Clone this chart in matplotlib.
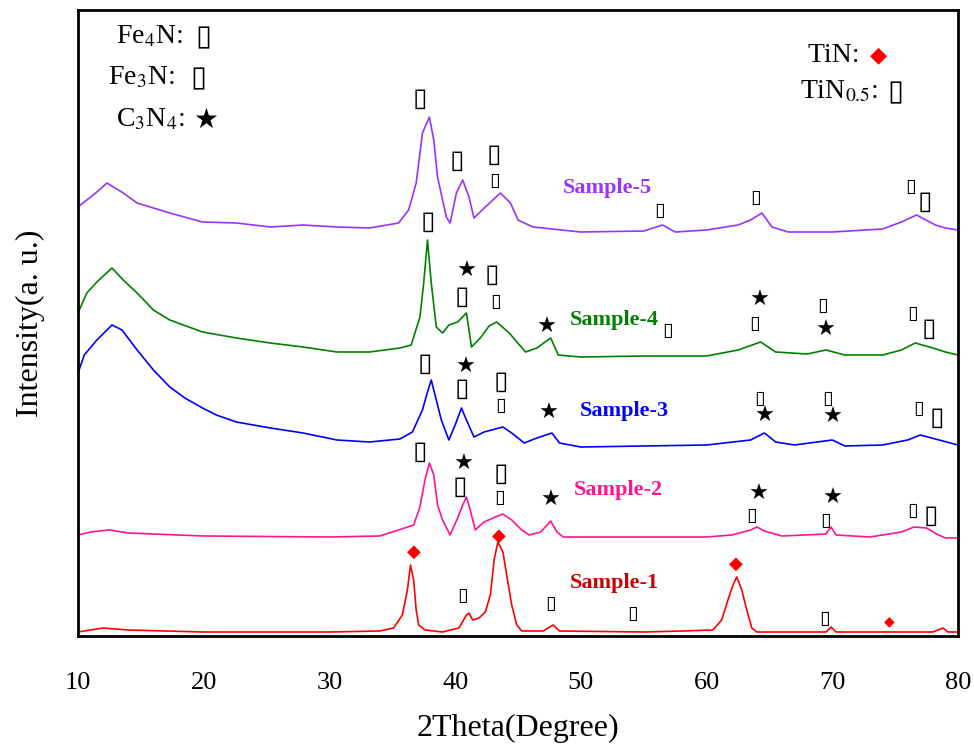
import matplotlib
matplotlib.use("Agg")
import matplotlib.pyplot as plt

plt.rcParams['font.family'] = ['Liberation Serif', 'DejaVu Sans']
plt.rcParams['mathtext.fontset'] = 'stix'

# XRD patterns: 2theta (deg) and stacked intensity (a.u.)
s1_x = [10, 12, 14, 20, 30, 34, 35.1, 35.8, 36.2, 36.45, 36.7, 36.9, 37.1, 37.6, 39, 40.3, 40.9, 41.1, 41.4, 41.9,
        42.4, 42.8, 43.1, 43.4, 43.8, 44.1, 44.5, 44.9, 45.3, 47.0, 47.8, 48.3, 55, 58, 60.5, 61.2, 61.7, 62.1,
        62.4, 62.8, 63.2, 63.6, 64, 69.5, 69.9, 70.3, 78, 78.8, 79.2, 80]
s1_y = [4, 8, 6, 4, 4, 5, 8, 21, 46, 71, 56, 26, 11, 6, 4, 8, 21, 23, 16, 18,
        24, 41, 76, 94, 84, 61, 31, 11, 5, 5, 11, 5, 4, 5, 6, 16, 36, 51,
        59, 46, 26, 8, 4, 4, 9, 4, 4, 8, 4, 4]

s2_x = [10, 11, 12.5, 14, 20, 30, 34, 35.5, 36.7, 37.2, 37.6, 37.95, 38.3, 38.6, 39.0, 39.6, 40.2, 40.6, 40.9,
        41.2, 41.6, 42.3, 43.2, 43.8, 44.5, 45.3, 45.9, 46.8, 47.6, 48.1, 48.6, 55, 60, 62, 63.5, 64.0, 64.6,
        66, 69.5, 69.9, 70.3, 73, 75.5, 76.5, 77.5, 78.3, 79, 80]
s2_y = [101, 104, 106, 103, 100, 99, 100, 106, 111, 129, 156, 173, 161, 131, 116, 101, 118, 131, 139,
        126, 106, 114, 119, 122, 116, 106, 101, 104, 115, 104, 99, 99, 99, 101, 106, 109, 105,
        100, 102, 109, 101, 99, 104, 109, 108, 102, 98, 98]

s3_x = [10, 10.5, 11.5, 12.7, 13.5, 14.7, 16, 17.3, 18.5, 19.9, 21, 22.6, 25.3, 27.9, 30.6, 33.2, 35.6, 36.6,
        37.4, 37.8, 38.1, 38.5, 38.9, 39.5, 40.0, 40.5, 40.9, 41.5, 42.3, 43.8, 44.5, 45.5, 46.5, 47.7, 48.3,
        50, 55, 60, 63.5, 64.6, 65.5, 67, 70, 71, 74, 76, 77, 78.5, 80]
s3_y = [263, 281, 296, 311, 306, 286, 266, 249, 238, 228, 221, 214, 208, 203, 196, 194, 197, 204,
        226, 244, 256, 236, 216, 196, 211, 228, 216, 199, 204, 209, 203, 193, 198, 203, 193,
        189, 190, 191, 196, 203, 194, 191, 196, 190, 191, 196, 201, 196, 191]

s4_x = [10, 10.7, 11.5, 12.7, 13.6, 14.7, 16, 17.3, 19.9, 22.6, 25.3, 27.9, 30.6, 33.2, 35.6, 36.5, 37.2,
        37.5, 37.8, 38.1, 38.5, 39.0, 39.5, 40.2, 40.9, 41.3, 42.0, 42.7, 43.3, 44.3, 45.6, 46.5, 47.6, 48.2,
        50, 55, 60, 62.5, 64.3, 65.5, 68, 69.5, 71, 74, 75.5, 76.6, 78, 79, 80]
s4_y = [323, 343, 354, 368, 356, 343, 326, 316, 304, 298, 293, 289, 284, 284, 288, 291, 319,
        353, 396, 353, 309, 303, 311, 314, 323, 289, 298, 310, 314, 303, 284, 288, 298, 281,
        279, 280, 280, 286, 294, 284, 282, 286, 281, 281, 286, 293, 288, 284, 281]

s5_x = [10, 10.7, 11.5, 12.3, 13.6, 14.7, 16, 17.3, 19.9, 22.6, 25.3, 27.9, 30.6, 33.2, 35.5, 36.3, 36.9,
        37.4, 37.95, 38.3, 38.6, 39.3, 39.6, 40.1, 40.6, 41.1, 41.5, 42.4, 43.6, 44.4, 45.0, 46.2, 50, 55,
        56.5, 57.5, 60, 62.5, 63.5, 64.4, 65.2, 66.5, 70, 74, 75.5, 76.7, 78.2, 79, 80]
s5_y = [429, 436, 444, 453, 443, 433, 428, 423, 414, 413, 409, 411, 409, 408, 413, 426, 453,
        503, 519, 496, 459, 419, 413, 443, 456, 439, 418, 429, 443, 433, 416, 409, 404, 405,
        411, 404, 406, 411, 416, 423, 409, 404, 404, 407, 414, 421, 411, 408, 406]

samples = ['Sample-1', 'Sample-2', 'Sample-3', 'Sample-4', 'Sample-5']
line_colors = ['#ff0000', '#ff1493', '#0000ff', '#008000', '#9933ff']
label_colors = ['#cc0000', '#ff1493', '#0000ff', '#008000', '#9933ff']
label_pos = [(52.7, 53), (53.0, 146), (53.5, 225), (52.7, 316), (52.1, 448)]

# phase markers: (symbol kind, 2theta, height)
# L = large box, S = small box, * = star, D = diamond, d = small diamond
markers = [
    ('L', 37.2, 537), ('L', 40.15, 475), ('L', 43.1, 481), ('S', 43.1, 456), ('S', 56.3, 426),
    ('S', 63.9, 439), ('S', 76.2, 450), ('L', 77.4, 434),
    ('L', 37.8, 414), ('*', 40.9, 365), ('L', 40.5, 339), ('L', 42.9, 361), ('S', 43.2, 335),
    ('*', 47.3, 309), ('S', 56.9, 306), ('*', 64.25, 336), ('S', 63.85, 313), ('S', 69.2, 331),
    ('*', 69.5, 306), ('S', 76.4, 323), ('L', 77.7, 307),
    ('L', 37.6, 272), ('*', 40.8, 269), ('L', 40.5, 247), ('L', 43.6, 254), ('S', 43.6, 231),
    ('*', 47.4, 223), ('S', 64.25, 238), ('*', 64.65, 220), ('S', 69.65, 238), ('*', 70.05, 219),
    ('S', 76.9, 228), ('L', 78.3, 218),
    ('L', 37.2, 184), ('*', 40.7, 172), ('L', 40.4, 149), ('L', 43.6, 162), ('S', 43.5, 139),
    ('*', 47.55, 136), ('*', 64.1, 142), ('S', 63.6, 121), ('*', 70.0, 138), ('S', 69.5, 116),
    ('S', 76.4, 126), ('L', 77.85, 120),
    ('D', 36.7, 84), ('S', 40.6, 41), ('D', 43.5, 100), ('S', 47.6, 33), ('S', 54.1, 23),
    ('D', 62.3, 72), ('S', 69.4, 18), ('d', 74.5, 15),
]

fig = plt.figure(figsize=(9.74, 7.53), dpi=100)
ax = fig.add_axes([78 / 974, 1 - 636 / 753, 880 / 974, 626 / 753])

xs = [s1_x, s2_x, s3_x, s4_x, s5_x]
ys = [s1_y, s2_y, s3_y, s4_y, s5_y]
for i in range(5):
    ax.plot(xs[i], ys[i], color=line_colors[i], lw=1.2)
    ax.text(label_pos[i][0], label_pos[i][1], samples[i], color=label_colors[i], fontsize=16,
            fontweight='bold', ha='center', va='center')

for kind, mx, my in markers:
    if kind == 'L':
        ax.text(mx, my, '\u25af', fontsize=19, family='DejaVu Sans', ha='center', va='center')
    elif kind == 'S':
        ax.text(mx, my, '\u25af', fontsize=14, family='DejaVu Sans', ha='center', va='center')
    elif kind == '*':
        ax.text(mx, my, '\u2605', fontsize=16, family='DejaVu Sans', ha='center', va='center')
    elif kind == 'D':
        ax.text(mx, my, '\u25c6', fontsize=13, family='DejaVu Sans', color='red', ha='center', va='center')
    else:
        ax.text(mx, my, '\u25c6', fontsize=10, family='DejaVu Sans', color='red', ha='center', va='center')

ax.set_xlim(10, 80)
ax.set_ylim(0, 626)
ax.set_xticks([10, 20, 30, 40, 50, 60, 70, 80])
ax.set_yticks([])
ax.tick_params(axis='x', length=0, pad=26, labelsize=19)
for sp in ax.spines.values():
    sp.set_linewidth(2)

ax.set_xlabel('2Theta(Degree)', fontsize=23, labelpad=14)
ax.set_ylabel('Intensity(a. u.)', fontsize=23, labelpad=24)

# phase key
fig.text(116 / 974, 1 - 37 / 753, 'Fe$_4$N: ', fontsize=20, va='center')
fig.text(203 / 974, 1 - 37 / 753, '\u25af', fontsize=21, family='DejaVu Sans', ha='center', va='center')
fig.text(108 / 974, 1 - 78 / 753, 'Fe$_3$N:', fontsize=20, va='center')
fig.text(198 / 974, 1 - 78 / 753, '\u25af', fontsize=21, family='DejaVu Sans', ha='center', va='center')
fig.text(116 / 974, 1 - 120 / 753, 'C$_3$N$_4$: ', fontsize=20, va='center')
fig.text(206 / 974, 1 - 120 / 753, '\u2605', fontsize=20, family='DejaVu Sans', ha='center', va='center')
fig.text(808 / 974, 1 - 55 / 753, 'TiN: ', fontsize=20, va='center')
fig.text(878 / 974, 1 - 55 / 753, '\u25c6', fontsize=16, family='DejaVu Sans', color='red',
         ha='center', va='center')
fig.text(800 / 974, 1 - 92 / 753, 'TiN$_{0.5}$: ', fontsize=20, va='center')
fig.text(895 / 974, 1 - 92 / 753, '\u25af', fontsize=21, family='DejaVu Sans', ha='center', va='center')

fig.savefig('out.png', dpi=100)
